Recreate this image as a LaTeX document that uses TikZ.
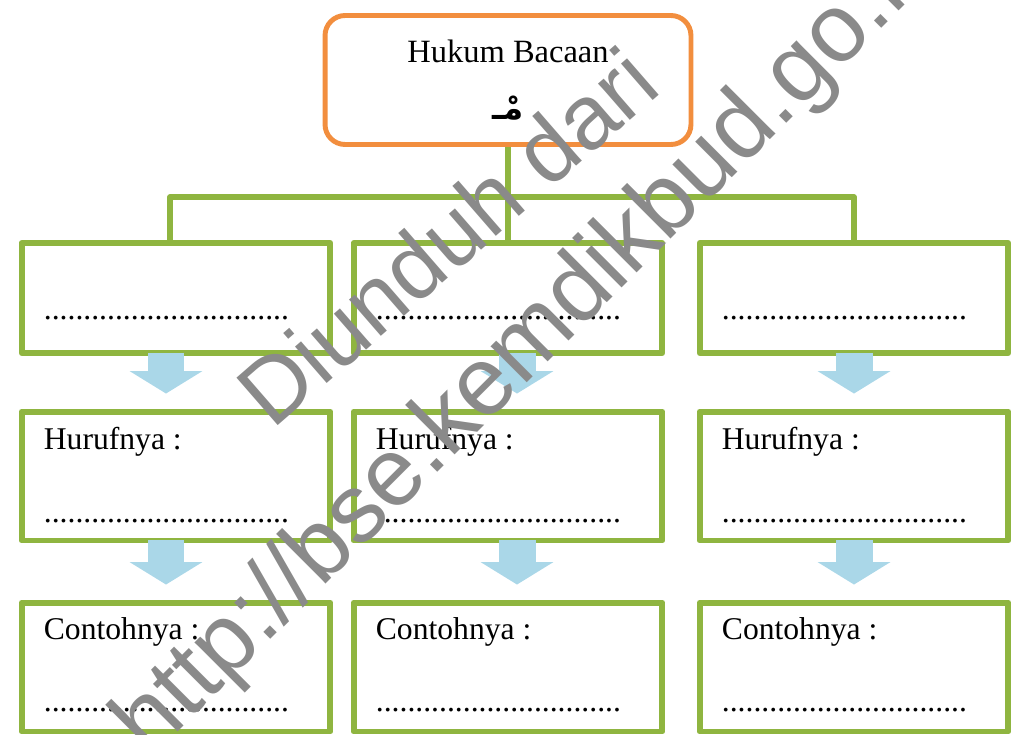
\documentclass[tikz,border=0pt]{standalone}
\usepackage{fontspec}
\setmainfont{Liberation Serif}
\newfontfamily\arabicfont[Script=Arabic]{DejaVu Sans}
\newfontfamily\wmfont{Liberation Sans}
\TeXXeTstate=1
\usetikzlibrary{arrows.meta}
\definecolor{hijau}{RGB}{143,181,64}
\definecolor{oranye}{RGB}{242,142,62}
\definecolor{biru}{RGB}{170,215,232}
\definecolor{abu}{RGB}{138,138,138}
\newcommand{\titik}{...............................}

\begin{document}
\begin{tikzpicture}[x=0.02cm, y=-0.02cm, line join=round,
	kotak/.style={draw=hijau, line width=3.4pt, minimum width=6.18cm, inner sep=0pt},
	judul/.style={draw=oranye, line width=2.8pt, rounded corners=0.4cm, minimum width=7.32cm, minimum height=2.58cm, align=center, font=\fontsize{18.5}{22}\selectfont},
	isian/.style={anchor=base west, inner sep=0pt, font=\fontsize{18}{22}\selectfont},
	garis/.style={draw=hijau, line width=3pt},
	panah/.style={draw=biru, line width=0.74cm, -{Triangle[length=0.45cm,width=1.44cm]}, shorten >=0.3cm, shorten <=-0.06cm},
	tanda/.style={text=abu, font=\wmfont\fontsize{#1}{60}\selectfont, inner sep=0pt}]
			\useasboundingbox (0,0) rectangle (1017,734);
			\node[judul] (hukum) at (508,80) {Hukum Bacaan\\[10pt]{\arabicfont\bfseries\beginR مْـ\endR}};
			\foreach \k/\x/\dx in {1/176/-10,2/508/9,3/854/0}{
				\node[kotak, minimum height=2.2cm] (kosong\k) at (\x,298) {};
				\node[kotak, minimum height=2.58cm] (huruf\k) at (\x,476) {};
				\node[kotak, minimum height=2.58cm] (contoh\k) at (\x,667) {};
				\node[isian] (tk\k) at ([shift={(25,79)}]kosong\k.north west) {\titik};
				\node[isian] (lh\k) at ([shift={(25,41)}]huruf\k.north west) {Hurufnya :};
				\node[isian] (th\k) at ([shift={(25,114)}]huruf\k.north west) {\titik};
				\node[isian] (lc\k) at ([shift={(25,40)}]contoh\k.north west) {Contohnya :};
				\node[isian] (tc\k) at ([shift={(25,112)}]contoh\k.north west) {\titik};
				\draw[panah] ([shift={(\dx,0)}]kosong\k.south) -- ([shift={(\dx,0)}]huruf\k.north);
				\draw[panah] ([shift={(\dx,0)}]huruf\k.south) -- ([shift={(\dx,0)}]contoh\k.north);
			}
			\coordinate (cabang) at (508,197);
			\draw[garis] (hukum.south) -- (kosong2.north);
			\draw[garis] ([shift={(-6,0)}]kosong1.north) |- (cabang) -| (kosong3.north);
			\node[tanda=52, rotate=41] (unduh) at (447,236) {Diunduh dari};
			\node[tanda=55, rotate=45, anchor=base west] (alamat) at (150,760) {http://bse.kemdikbud.go.id};
\end{tikzpicture}
\end{document}
